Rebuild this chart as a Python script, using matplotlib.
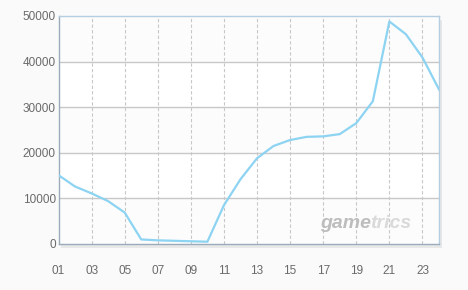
import matplotlib
matplotlib.use("Agg")
import matplotlib.pyplot as plt
from matplotlib.patches import Rectangle

hours = list(range(1, 25))
values = [15100, 12600, 11100, 9400, 6900, 1000, 800, 700, 600, 500,
          8500, 14200, 18800, 21500, 22800, 23500, 23600, 24100, 26500, 31300,
          48800, 46000, 40900, 33900]
xtick_labels = ["01", "03", "05", "07", "09", "11", "13", "15", "17", "19", "21", "23"]
ytick_values = [0, 10000, 20000, 30000, 40000, 50000]

plt.rcParams['font.family'] = ['Liberation Sans', 'DejaVu Sans']

fig = plt.figure(figsize=(4.68, 2.90), dpi=100)
fig.patch.set_facecolor("#fafafa")
ax = fig.add_axes([58.5/468, 46/290, (439-58.5)/468, (244-16)/290])
ax.set_facecolor("#fcfcfc")

# shadow
sh = Rectangle((61/468, 42/290), (439-58.5)/468, (244-16)/290, transform=fig.transFigure,
               facecolor="#e8e8e8", edgecolor="none", zorder=-1)
fig.patches.append(sh)

# alternating bands
for i in range(0, 5):
    if i % 2 == 1:
        ax.axhspan(i*10000, (i+1)*10000, color="white", zorder=0, lw=0)

ax.set_xlim(1, 24)
ax.set_ylim(0, 50000)

for h in range(3, 24, 2):
    ax.axvline(h, color="#c8c8c8", lw=0.8, ls=(0, (3, 2)), zorder=1)
for y in ytick_values[1:-1]:
    ax.axhline(y, color="#c8c8c8", lw=1.0, zorder=1)

ax.plot(hours, values, color="#8dd3f2", lw=1.6, zorder=3, solid_joinstyle="round")

ax.set_xticks(list(range(1, 24, 2)))
ax.set_xticklabels(xtick_labels)
ax.set_yticks(ytick_values)
ax.set_yticklabels([str(v) for v in ytick_values])
ax.tick_params(axis="both", length=0, colors="#6a6a6a", labelsize=8.5)
ax.tick_params(axis="x", pad=15)
ax.tick_params(axis="y", pad=2)

ax.spines["left"].set_color("#9aabbb")
ax.spines["bottom"].set_color("#9aabbb")
ax.spines["top"].set_color("#b4cde0")
ax.spines["right"].set_color("#b4cde0")
for s in ax.spines.values():
    s.set_linewidth(1.0)

fig.text(320/468, 1 - 223/290, "game", fontsize=14, fontweight="bold", style="italic",
         color="#bdbdbd", va="center", ha="left")
fig.text(370/468, 1 - 223/290, "trics", fontsize=14, fontweight="bold", style="italic",
         color="#dadada", va="center", ha="left")

fig.savefig("out.png", dpi=100, facecolor=fig.get_facecolor())
